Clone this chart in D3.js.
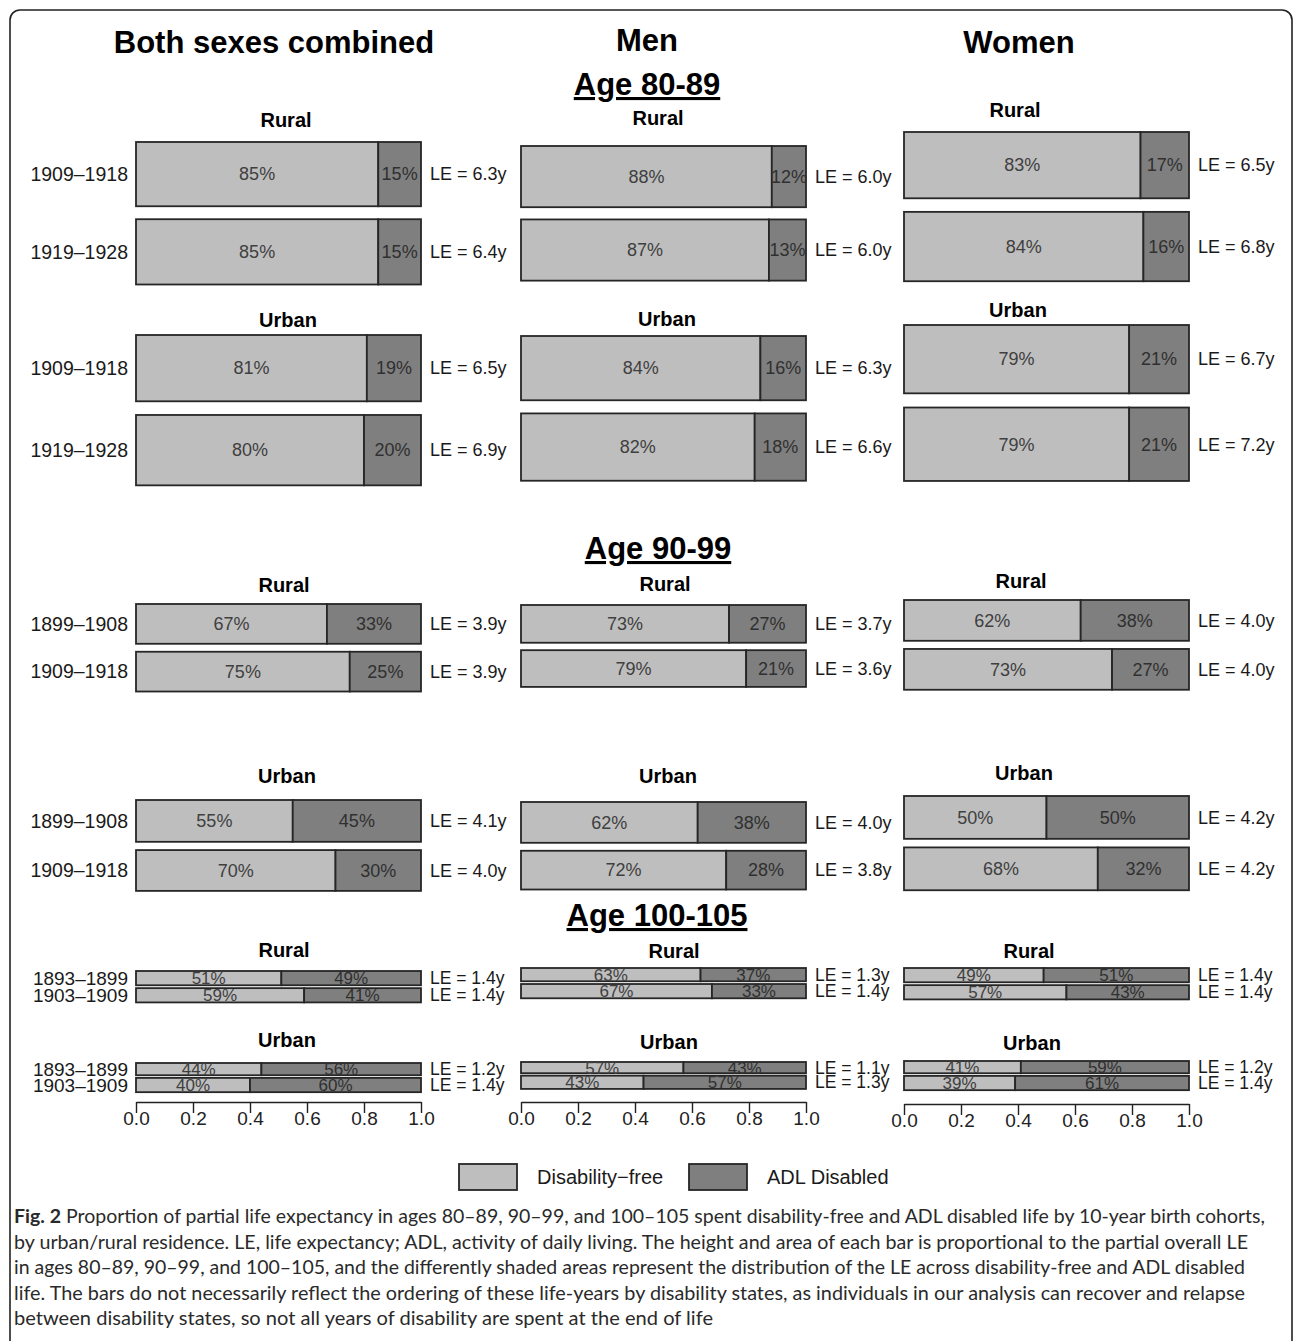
<!DOCTYPE html>
<html>
<head>
<meta charset="utf-8">
<script src="https://cdn.jsdelivr.net/npm/d3@7"></script>
<style>
  body { margin: 0; background: #fff; }
  svg { display: block; }
</style>
</head>
<body>
<div id="chart"></div>
<script>
// Column, age group and residence names
const columns = ["Both sexes combined", "Men", "Women"];
const ageGroups = ["Age 80-89", "Age 90-99", "Age 100-105"];
const residences = ["Rural", "Urban"];
const cohorts = [
    ["1909\u20131918", "1919\u20131928"],
    ["1899\u20131908", "1909\u20131918"],
    ["1893\u20131899", "1903\u20131909"]
];
const tickValues = [0, 0.2, 0.4, 0.6, 0.8, 1.0];

// Percent disability-free / ADL disabled, panels ordered:
// 80-89 rural, 80-89 urban, 90-99 rural, 90-99 urban, 100-105 rural, 100-105 urban
const freeBoth  = [[85, 85], [81, 80], [67, 75], [55, 70], [51, 59], [44, 40]];
const adlBoth   = [[15, 15], [19, 20], [33, 25], [45, 30], [49, 41], [56, 60]];
const leBoth    = [[6.3, 6.4], [6.5, 6.9], [3.9, 3.9], [4.1, 4.0], [1.4, 1.4], [1.2, 1.4]];

const freeMen   = [[88, 87], [84, 82], [73, 79], [62, 72], [63, 67], [57, 43]];
const adlMen    = [[12, 13], [16, 18], [27, 21], [38, 28], [37, 33], [43, 57]];
const leMen     = [[6.0, 6.0], [6.3, 6.6], [3.7, 3.6], [4.0, 3.8], [1.3, 1.4], [1.1, 1.3]];

const freeWomen = [[83, 84], [79, 79], [62, 73], [50, 68], [49, 57], [41, 39]];
const adlWomen  = [[17, 16], [21, 21], [38, 27], [50, 32], [51, 43], [59, 61]];
const leWomen   = [[6.5, 6.8], [6.7, 7.2], [4.0, 4.0], [4.2, 4.2], [1.4, 1.4], [1.2, 1.4]];

const freeAll = [freeBoth, freeMen, freeWomen];
const adlAll = [adlBoth, adlMen, adlWomen];
const leAll = [leBoth, leMen, leWomen];

// Layout (pixel positions of each panel)
const colRange = [[136, 421], [521, 806], [904, 1189]];
const colTitleX = [274, 647, 1019];
const colTitleY = [53, 51, 53];
const ageTitle = [{x: 647, y: 95}, {x: 658, y: 559}, {x: 657, y: 926}];
const barTop = [
    [142, 335, 604, 800, 971, 1063],
    [146, 336, 605, 802, 968, 1062],
    [132, 325, 600, 796, 968, 1061]
];
const subTitleY = [
    [127, 327, 592, 783, 957, 1047],
    [125, 326, 591, 783, 958, 1049],
    [117, 317, 588, 780, 958, 1050]
];
const subTitleX = [
    [286, 288, 284, 287, 284, 287],
    [658, 667, 665, 668, 674, 669],
    [1015, 1018, 1021, 1024, 1029, 1032]
];
const axisY = [1102, 1102, 1104];

const colors = { free: "#bebebe", adl: "#7f7f7f", stroke: "#262626" };
const font = "'Liberation Sans', Arial, sans-serif";

const W = 1295, H = 1341;
const svg = d3.select("#chart").append("svg")
    .attr("width", W)
    .attr("height", H)
    .style("font-family", font);

// Figure frame
svg.append("rect")
    .attr("x", 10).attr("y", 10)
    .attr("width", 1282).attr("height", 1345)
    .attr("rx", 10)
    .attr("fill", "none")
    .attr("stroke", "#222")
    .attr("stroke-width", 1.6);

// Bar thickness proportional to LE
const hScale = d3.scaleLinear().domain([0, 1]).range([0, 10.2]);

// Column headers
columns.forEach((c, i) => {
    svg.append("text")
        .attr("x", colTitleX[i]).attr("y", colTitleY[i])
        .attr("text-anchor", "middle")
        .style("font-size", "31px").style("font-weight", "bold")
        .text(c);
});

// Age group headers
ageGroups.forEach((a, i) => {
    svg.append("text")
        .attr("x", ageTitle[i].x).attr("y", ageTitle[i].y)
        .attr("text-anchor", "middle")
        .style("font-size", "31px").style("font-weight", "bold")
        .style("text-decoration", "underline")
        .text(a);
});

columns.forEach((col, c) => {
    const x = d3.scaleLinear().domain([0, 1]).range(colRange[c]);

    for (let p = 0; p < 6; p++) {
        const age = Math.floor(p / 2);
        const res = residences[p % 2];
        const les = leAll[c][p];
        const gap = hScale(0.2 * d3.mean(les));
        const small = age === 2;
        const fs = small ? 17 : 18;
        const g = svg.append("g");

        g.append("text")
            .attr("x", subTitleX[c][p]).attr("y", subTitleY[c][p])
            .attr("text-anchor", "middle")
            .style("font-size", "20px").style("font-weight", "bold")
            .text(res);

        let y = barTop[c][p];
        les.forEach((le, i) => {
            const bh = hScale(le);
            const f = freeAll[c][p][i] / 100;
            const cy = y + bh / 2;

            g.append("rect")
                .attr("x", x(0)).attr("y", y)
                .attr("width", x(f) - x(0)).attr("height", bh)
                .attr("fill", colors.free)
                .attr("stroke", colors.stroke).attr("stroke-width", 1.8);
            g.append("rect")
                .attr("x", x(f)).attr("y", y)
                .attr("width", x(1) - x(f)).attr("height", bh)
                .attr("fill", colors.adl)
                .attr("stroke", colors.stroke).attr("stroke-width", 1.8);

            g.append("text")
                .attr("x", (x(0) + x(f)) / 2).attr("y", cy).attr("dy", "0.35em")
                .attr("text-anchor", "middle")
                .style("font-size", fs + "px").style("fill", "#404040")
                .text(freeAll[c][p][i] + "%");
            g.append("text")
                .attr("x", (x(f) + x(1)) / 2).attr("y", cy).attr("dy", "0.35em")
                .attr("text-anchor", "middle")
                .style("font-size", fs + "px").style("fill", "#303030")
                .text(adlAll[c][p][i] + "%");

            g.append("text")
                .attr("x", x(1) + 9).attr("y", cy).attr("dy", "0.35em")
                .style("font-size", (small ? 17.5 : 18) + "px").style("fill", "#1a1a1a")
                .text("LE = " + le.toFixed(1) + "y");

            // cohort labels only on the first column
            if (c === 0) {
                g.append("text")
                    .attr("x", x(0) - 8).attr("y", cy).attr("dy", "0.35em")
                    .attr("text-anchor", "end")
                    .style("font-size", (small ? 19 : 19.5) + "px").style("fill", "#1a1a1a")
                    .text(cohorts[age][i]);
            }
            y += bh + gap;
        });
    }

    // x axis at bottom of each column
    const ax = svg.append("g")
        .attr("transform", `translate(0,${axisY[c]})`)
        .call(d3.axisBottom(x).tickValues(tickValues)
            .tickFormat(d3.format(".1f")).tickSize(11).tickSizeOuter(0).tickPadding(-1));
    ax.selectAll("path, line").style("stroke", "#222").style("stroke-width", 1.4);
    ax.selectAll("text")
        .style("font-size", "19px").style("font-family", font).style("fill", "#222");
});

// Legend
const legendItems = [
    { label: "Disability\u2212free", fill: colors.free, x: 459 },
    { label: "ADL Disabled", fill: colors.adl, x: 689 }
];
legendItems.forEach(d => {
    svg.append("rect")
        .attr("x", d.x).attr("y", 1164)
        .attr("width", 58).attr("height", 26)
        .attr("fill", d.fill)
        .attr("stroke", colors.stroke).attr("stroke-width", 1.8);
    svg.append("text")
        .attr("x", d.x + 78).attr("y", 1184)
        .style("font-size", "20px").style("fill", "#1a1a1a")
        .text(d.label);
});

// Caption
const caption = [
    { bold: "Fig. 2", text: " Proportion of partial life expectancy in ages 80\u201389, 90\u201399, and 100\u2013105 spent disability-free and ADL disabled life by 10-year birth cohorts,", w: 1251 },
    { text: "by urban/rural residence. LE, life expectancy; ADL, activity of daily living. The height and area of each bar is proportional to the partial overall LE", w: 1234 },
    { text: "in ages 80\u201389, 90\u201399, and 100\u2013105, and the differently shaded areas represent the distribution of the LE across disability-free and ADL disabled", w: 1231 },
    { text: "life. The bars do not necessarily reflect the ordering of these life-years by disability states, as individuals in our analysis can recover and relapse", w: 1231 },
    { text: "between disability states, so not all years of disability are spent at the end of life", w: 699 }
];
caption.forEach((line, i) => {
    const t = svg.append("text")
        .attr("x", 14).attr("y", 1223 + i * 25.5)
        .attr("textLength", line.w)
        .attr("lengthAdjust", "spacingAndGlyphs")
        .style("font-family", "Lato, 'Open Sans', sans-serif")
        .style("font-size", "19px").style("fill", "#2a2a2a");
    if (line.bold) t.append("tspan").style("font-weight", "bold").text(line.bold);
    t.append("tspan").text(line.text);
});
</script>
</body>
</html>
